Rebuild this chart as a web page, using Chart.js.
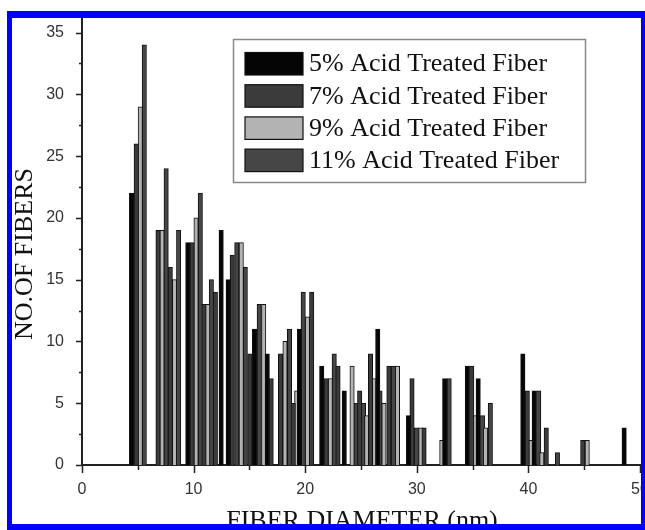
<!DOCTYPE html>
<html>
<head>
<meta charset="utf-8">
<script src="https://cdn.jsdelivr.net/npm/chart.js@4"></script>
<style>
  html, body { margin: 0; padding: 0; background: #fff; }
  #wrap { position: relative; width: 645px; height: 530px; overflow: hidden; }
  #marco {
    position: absolute; left: 7px; top: 11px; width: 638px; height: 519px;
    box-sizing: border-box; border: solid #0000ff; border-width: 7px 4px 6px 5px;
    pointer-events: none;
  }
</style>
</head>
<body>
<div id="wrap">
  <canvas id="graficoFibras" width="645" height="530"></canvas>
  <div id="marco"></div>
</div>
<script>
// ====== Datos (diámetro en nm, número de fibras) ======
const etiquetas = ['5% Acid Treated Fiber', '7% Acid Treated Fiber', '9% Acid Treated Fiber', '11% Acid Treated Fiber'];

const diam5 = [4.44, 9.48, 12.47, 13.1, 15.46, 16.6, 19.49, 21.48, 23.5, 26.5, 29.26, 32.5, 34.53, 35.5, 39.5, 40.52, 48.58];
const num5  = [22, 18, 19, 15, 11, 9, 11, 8, 6, 11, 4, 7, 8, 7, 9, 6, 3];

const diam7 = [4.86, 6.81, 7.91, 9.86, 10.93, 11.95, 13.46, 15.04, 16.95, 17.79, 18.93, 20.58, 21.88, 22.94, 24.88, 25.85, 27.5, 29.57, 30.65, 34.92, 39.9, 41.6, 44.87];
const num7  = [26, 19, 16, 18, 13, 14, 17, 9, 7, 9, 5, 14, 7, 8, 6, 9, 8, 7, 3, 8, 6, 3, 2];

const diam9 = [5.22, 7.17, 8.29, 10.22, 11.26, 14.27, 16.28, 18.19, 19.24, 20.2, 22.25, 24.2, 25.51, 26.16, 27.06, 28.27, 30.36, 32.24, 35.2, 36.15, 40.2, 41.2, 45.27];
const num9  = [29, 19, 15, 20, 13, 18, 13, 10, 6, 12, 7, 8, 4, 7, 5, 8, 3, 2, 4, 3, 2, 1, 2];

const diam11 = [5.58, 7.54, 8.66, 10.6, 11.59, 13.87, 14.63, 15.88, 18.59, 19.82, 22.6, 24.55, 25.22, 26.7, 27.9, 29.96, 32.9, 35.9, 36.59, 40.92, 42.6];
const num11  = [34, 24, 19, 22, 15, 18, 16, 13, 11, 14, 9, 5, 5, 6, 8, 3, 7, 4, 5, 6, 1];

const ticksX = [0, 10, 20, 30, 40, 50];
const ticksY = [0, 5, 10, 15, 20, 25, 30, 35];

const colores = ['#050505', '#3b3b3b', '#b3b3b3', '#464646'];

function puntos(xs, ys) {
  return xs.map((x, i) => ({ x: x, y: ys[i] }));
}

// ====== Ticks menores, títulos de ejes y leyenda ======
const decoracion = {
  id: 'decoracion',
  afterDraw(chart) {
    const ctx = chart.ctx;
    const sx = chart.scales.x;
    const sy = chart.scales.y;
    const area = chart.chartArea;

    ctx.save();
    ctx.strokeStyle = '#222';
    ctx.lineWidth = 1.5;
    ctx.beginPath();
    for (let v = 0; v <= 50; v += 5) {
      const px = Math.round(sx.getPixelForValue(v)) + 0.5;
      const largo = v % 10 === 0 ? 8 : 5;
      ctx.moveTo(px, area.bottom);
      ctx.lineTo(px, area.bottom + largo);
    }
    for (let v = 0; v <= 35; v += 2.5) {
      const py = Math.round(sy.getPixelForValue(v)) + 0.5;
      const largo = v % 5 === 0 ? 6 : 3;
      ctx.moveTo(area.left - largo, py);
      ctx.lineTo(area.left, py);
    }
    ctx.stroke();

    // títulos
    ctx.fillStyle = '#111';
    ctx.font = '26px "Liberation Serif"';
    ctx.textAlign = 'center';
    ctx.textBaseline = 'alphabetic';
    ctx.fillText('FIBER DIAMETER (nm)', 362, 528);
    ctx.save();
    ctx.translate(32, 254);
    ctx.rotate(-Math.PI / 2);
    ctx.fillText('NO.OF FIBERS', 0, 0);
    ctx.restore();

    // leyenda
    ctx.fillStyle = '#fff';
    ctx.fillRect(233, 39, 353, 144);
    ctx.strokeStyle = '#888';
    ctx.lineWidth = 1.5;
    ctx.strokeRect(233.5, 39.5, 352, 143);
    ctx.font = '26px "Liberation Serif"';
    ctx.textAlign = 'left';
    ctx.textBaseline = 'middle';
    etiquetas.forEach((txt, i) => {
      const y0 = 52.5 + i * 32.2;
      ctx.fillStyle = colores[i];
      ctx.fillRect(245, y0, 58, 22.5);
      ctx.strokeStyle = '#111';
      ctx.lineWidth = 1.2;
      ctx.strokeRect(245, y0, 58, 22.5);
      ctx.fillStyle = '#111';
      ctx.fillText(txt, 309, y0 + 12);
    });
    ctx.restore();
  }
};

// ====== Gráfico ======
const ctx = document.getElementById('graficoFibras').getContext('2d');
const series = [[diam5, num5], [diam7, num7], [diam9, num9], [diam11, num11]];

const graficoFibras = new Chart(ctx, {
  type: 'bar',
  data: {
    datasets: series.map((s, i) => ({
      label: etiquetas[i],
      data: puntos(s[0], s[1]),
      backgroundColor: colores[i],
      borderColor: '#111',
      borderWidth: 1,
      barThickness: 4.4,
      grouped: false
    }))
  },
  options: {
    responsive: false,
    animation: false,
    layout: {
      autoPadding: false,
      padding: { left: 0, top: 19, right: 5, bottom: 0 }
    },
    plugins: {
      legend: { display: false },
      tooltip: { enabled: false }
    },
    scales: {
      x: {
        type: 'linear',
        min: 0,
        max: 50,
        offset: false,
        grid: { display: false, offset: false },
        border: { display: true, color: '#222', width: 2 },
        afterBuildTicks: (scale) => { scale.ticks = ticksX.map(v => ({ value: v })); },
        afterFit: (scale) => {
          scale.height = 65;
          scale.paddingLeft = 0;
          scale.paddingRight = 0;
        },
        ticks: {
          autoSkip: false,
          maxRotation: 0,
          padding: 7,
          color: '#333',
          font: { family: 'Liberation Sans', size: 16 }
        }
      },
      y: {
        min: 0,
        max: 36.1,
        grid: { display: false },
        border: { display: true, color: '#222', width: 2 },
        afterBuildTicks: (scale) => { scale.ticks = ticksY.map(v => ({ value: v })); },
        afterFit: (scale) => {
          scale.width = 82;
          scale.paddingTop = 0;
          scale.paddingBottom = 0;
        },
        ticks: {
          padding: 10,
          color: '#333',
          font: { family: 'Liberation Sans', size: 16 }
        }
      }
    }
  },
  plugins: [decoracion]
});
</script>
</body>
</html>
